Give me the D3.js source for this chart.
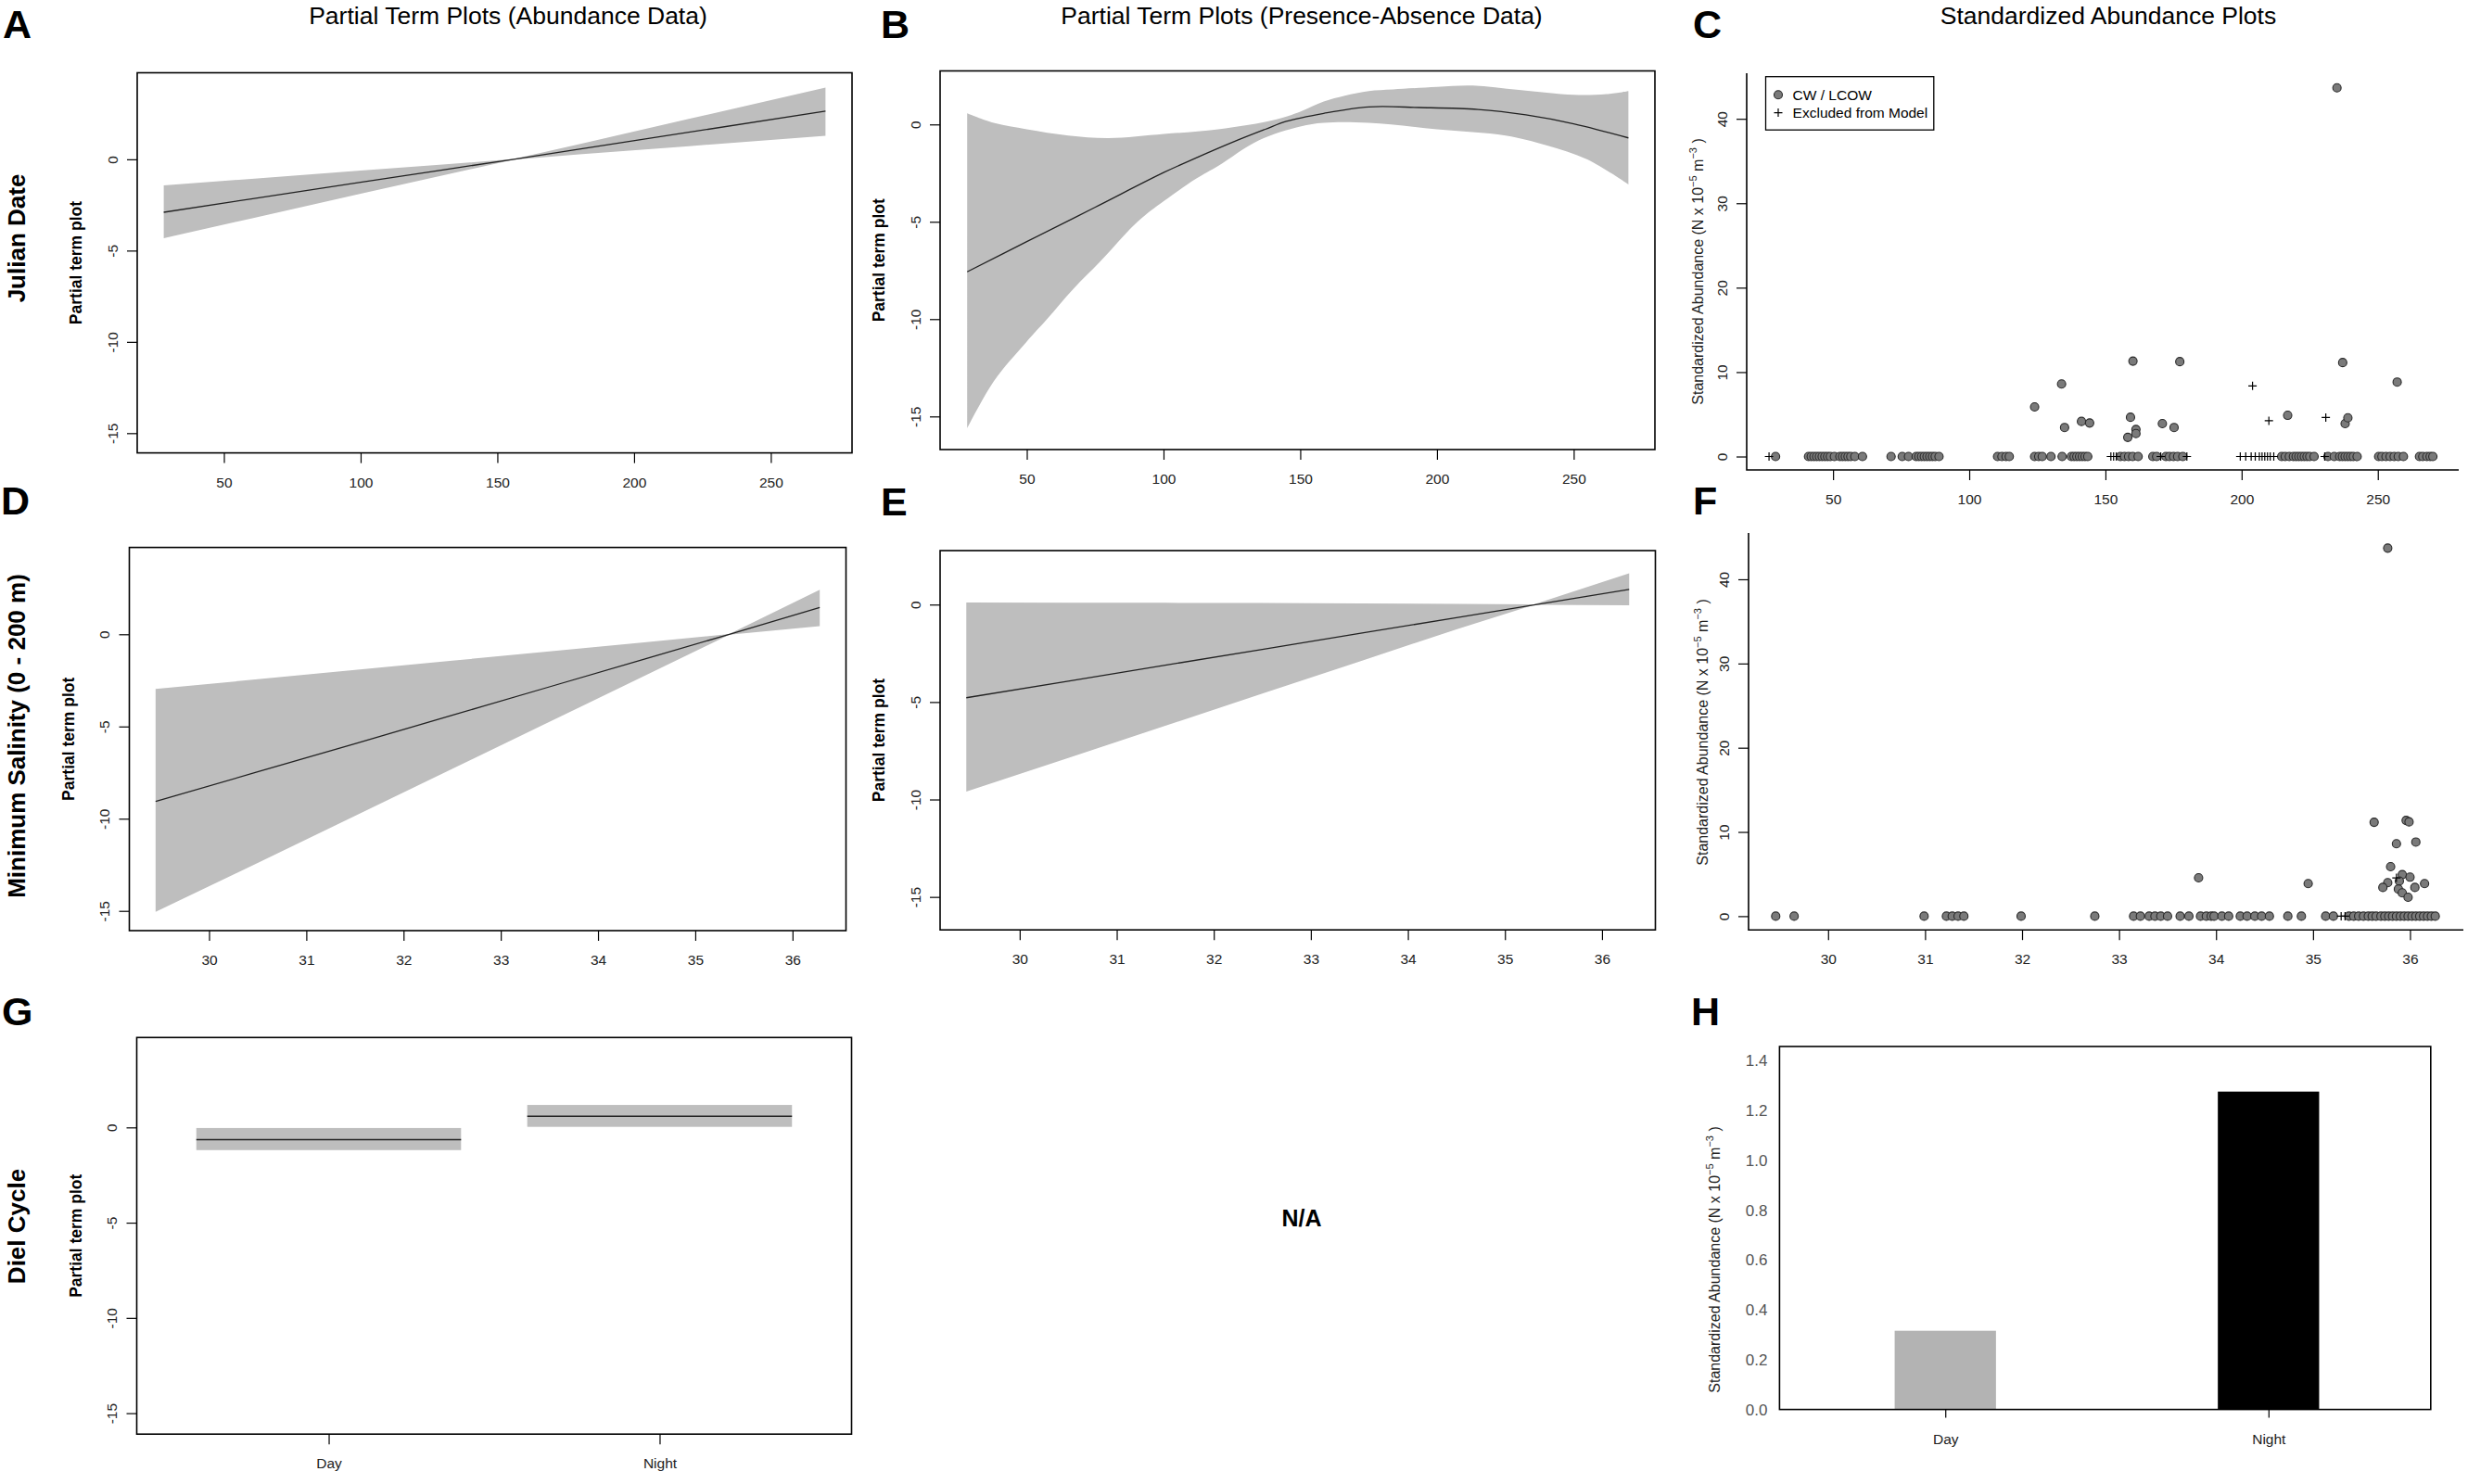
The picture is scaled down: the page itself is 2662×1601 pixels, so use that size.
<!DOCTYPE html>
<html><head><meta charset="utf-8">
<script src="https://cdn.jsdelivr.net/npm/d3@7"></script>
<style>
body{margin:0;background:#fff}
svg{display:block;background:#fff}
text{font-family:"Liberation Sans",Arial,Helvetica,sans-serif}
</style>
</head><body>
<svg id="chart" width="2662" height="1601"></svg>
<script>
// ---------------- DATA ----------------
const julianTicks = [50, 100, 150, 200, 250];
const salinityTicks = [30, 31, 32, 33, 34, 35, 36];
const partialTicks = [0, -5, -10, -15];
const abundTicks = [0, 10, 20, 30, 40];
const barTicks = [0, 0.2, 0.4, 0.6, 0.8, 1.0, 1.2, 1.4];
const dielCats = ["Day", "Night"];

// A: Julian date, abundance model
const aX   = [28, 60, 100, 130, 156, 180, 220, 270];
const aFit = [-2.9, -2.17, -1.26, -0.58, 0, 0.56, 1.48, 2.64];
const aUp  = [-1.43, -1.07, -0.62, -0.29, 0.02, 0.83, 2.21, 3.93];
const aLo  = [-4.32, -3.24, -1.89, -0.88, -0.02, 0.27, 0.72, 1.29];

// B: Julian date, presence-absence model
const bX    = [28.2, 50, 74.9, 100.2, 111.9, 125.5, 137.2, 144.9, 158.6, 175.1, 193.6, 215, 232.5, 250, 270];
const bFit  = [-7.57, -6.02, -4.26, -2.46, -1.72, -0.9, -0.25, 0.16, 0.57, 0.9, 0.87, 0.77, 0.49, 0.03, -0.69];
const bUpX  = [28.2, 37.9, 50, 65.2, 80, 100.2, 120, 141, 150, 158.6, 166.3, 175.1, 183.9, 200, 213, 230, 250, 262, 270];
const bUp   = [0.57, 0.08, -0.25, -0.57, -0.7, -0.49, -0.25, 0.25, 0.66, 1.18, 1.48, 1.72, 1.8, 1.93, 2.0, 1.77, 1.52, 1.56, 1.72];
const bLoX  = [28.2, 37.9, 50, 57.4, 67.1, 76.8, 90.5, 100.2, 111.9, 120, 134.8, 150, 158.6, 175.1, 200, 225.1, 240, 255, 270];
const bLo   = [-15.61, -13.2, -11.15, -10.0, -8.44, -7.05, -5.0, -3.93, -2.79, -2.13, -0.82, -0.11, 0.08, 0.08, -0.25, -0.57, -1.07, -1.8, -3.08];

// C: Julian date vs standardized abundance
const cPosX = [124.0, 133.9, 135.0, 141.2, 144.2, 160.1, 159.2, 158.2, 161.2, 161.2, 170.9, 175.2, 177.3, 216.9, 235.0, 237.1, 238.0, 239.0, 257.1];
const cPosY = [5.87, 8.59, 3.44, 4.16, 3.97, 11.3, 4.65, 2.27, 3.2, 2.72, 3.9, 3.44, 11.24, 4.88, 43.67, 11.13, 3.9, 4.58, 8.82];
const cZeroX = [28.9, 41, 42, 43, 44, 45, 46, 47, 48, 49, 50.5, 52.5, 53.5, 54.5, 55.5, 56.5, 58, 60.8, 71.3, 75.4, 77.7,
  80.5, 81.5, 82.5, 83.5, 84.5, 85.5, 86.5, 87.5, 88.9, 110.4, 112, 113.5, 114.7, 124, 125.5, 126.8, 130, 134.1,
  137.5, 138.5, 139.5, 140.5, 141.5, 142.5, 143.5, 155.5, 157, 158.5, 160, 162, 167.4, 168.8, 172.2, 173.5, 175, 176.5, 178.4,
  214.7, 216, 217.5, 219, 220, 221, 222, 223, 224, 225, 226.6, 231.7, 234, 236, 237, 238, 239, 240, 241, 242.4,
  250.3, 251.5, 253, 254.5, 256, 257.5, 259.4, 265.3, 266.5, 268, 269.2, 270.2];
const cExclX = [26.5, 152, 153, 154, 170.3, 179.9, 199.5, 201.5, 203.5, 205, 206.5, 207.5, 208.5, 209.5, 210.5, 211.8, 230.5, 204.0, 210.0, 230.9];
const cExclY = [0, 0, 0, 0, 0, 0, 0, 0, 0, 0, 0, 0, 0, 0, 0, 0, 0, 8.36, 4.24, 4.62];

// D: minimum salinity, abundance model
const dX   = [29.45, 30.5, 31.5, 32.5, 33.5, 34.5, 35.35, 36.28];
const dFit = [-9.06, -7.46, -5.93, -4.39, -2.85, -1.31, 0, 1.45];
const dUp  = [-2.96, -2.44, -1.93, -1.43, -0.93, -0.43, 0.02, 2.42];
const dLo  = [-15.05, -12.4, -9.85, -7.3, -4.75, -2.2, -0.02, 0.44];

// E: minimum salinity, presence-absence model
const eX   = [29.45, 30.5, 31.5, 32.5, 33.5, 34.5, 35.3, 36.28];
const eFit = [-4.78, -3.93, -3.11, -2.3, -1.48, -0.67, -0.02, 0.78];
const eUp  = [0.11, 0.1, 0.09, 0.08, 0.06, 0.04, 0.01, 1.6];
const eLo  = [-9.6, -7.87, -6.22, -4.57, -2.92, -1.27, -0.01, -0.03];

// F: minimum salinity vs standardized abundance
const fPosX = [33.82, 34.95, 35.63, 35.77, 35.96, 35.99, 35.86, 36.06, 35.80, 35.92, 36.0, 35.89, 35.77, 35.72, 35.88, 35.92, 35.98, 36.05, 36.15];
const fPosY = [4.55, 3.87, 11.15, 43.7, 11.37, 11.2, 8.6, 8.8, 5.88, 4.93, 4.63, 4.17, 3.98, 3.41, 3.22, 2.77, 2.24, 3.41, 3.87];
const fZeroX = [29.46, 29.65, 30.99, 31.22, 31.28, 31.34, 31.4, 31.99, 32.75, 33.15, 33.22, 33.31, 33.37, 33.43, 33.5,
  33.63, 33.72, 33.84, 33.9, 33.95, 33.98, 34.06, 34.13, 34.25, 34.32, 34.4, 34.47, 34.55, 34.74, 34.88, 35.13, 35.21,
  35.37, 35.42, 35.47, 35.52, 35.57, 35.61, 35.65, 35.7, 35.74, 35.78, 35.82, 35.86, 35.9, 35.94, 35.98, 36.02,
  36.06, 36.1, 36.14, 36.18, 36.22, 36.26];
const fExclX = [35.29, 35.33, 35.86];
const fExclY = [0, 0, 4.55];

// G: diel cycle, abundance model
const gFit = [-0.64, 0.59];
const gUp  = [-0.03, 1.18];
const gLo  = [-1.19, 0.03];

// H: diel cycle mean standardized abundance
const hVals = [0.315, 1.272];
const hColors = ["#b3b3b3", "#000000"];

// ---------------- LAYOUT ----------------
const svg = d3.select("#chart");
const BAND = "#bebebe";

function panel(p) {
  const g = svg.append("g");
  const x = d3.scaleLinear().domain(p.xd).range([p.x0, p.x1]);
  const y = d3.scaleLinear().domain(p.yd).range([p.y1, p.y0]);
  return {g, x, y, p};
}
function clip(P, id) {
  svg.append("clipPath").attr("id", id).append("rect")
    .attr("x", P.p.x0).attr("y", P.p.y0).attr("width", P.p.x1 - P.p.x0).attr("height", P.p.y1 - P.p.y0);
  return P.g.append("g").attr("clip-path", `url(#${id})`);
}
function box(P) {
  P.g.append("rect").attr("x", P.p.x0).attr("y", P.p.y0)
    .attr("width", P.p.x1 - P.p.x0).attr("height", P.p.y1 - P.p.y0)
    .attr("fill", "none").attr("stroke", "#000").attr("stroke-width", 1.6);
}
function lBox(P) {
  P.g.append("path").attr("d", `M${P.p.x0},${P.p.y0}V${P.p.y1}H${P.p.x1}`)
    .attr("fill", "none").attr("stroke", "#000").attr("stroke-width", 1.6);
}
function yAxisRot(P, ticks) {
  const a = P.g.append("g").attr("transform", `translate(${P.p.x0},0)`)
    .call(d3.axisLeft(P.y).tickValues(ticks).tickSize(11).tickFormat(d => String(d)));
  a.attr("font-size", null).attr("font-family", null);
  a.select(".domain").remove();
  a.selectAll("line").attr("stroke", "#000").attr("stroke-width", 1.2);
  a.selectAll("text").attr("x", null).attr("dy", null).attr("text-anchor", "middle")
    .attr("transform", "translate(-21.5,0) rotate(-90)")
    .style("font-size", "15.5px").attr("fill", "#222");
}
function xAxis(P, ticks, fmt, len) {
  const a = P.g.append("g").attr("transform", `translate(0,${P.p.y1})`)
    .call(d3.axisBottom(P.x).tickValues(ticks).tickSize(len || 11).tickFormat(fmt || (d => String(d))));
  a.attr("font-size", null).attr("font-family", null);
  a.select(".domain").remove();
  a.selectAll("line").attr("stroke", "#000").attr("stroke-width", 1.2);
  a.selectAll("text").attr("y", 37).attr("dy", null)
    .style("font-size", "15.5px").attr("fill", "#222");
}
function bandPath(P, xu, yu, xl, yl, curve) {
  const ln = d3.line().x(d => P.x(d[0])).y(d => P.y(d[1])).curve(curve);
  const up = xu.map((v, i) => [v, yu[i]]);
  const lo = xl.map((v, i) => [v, yl[i]]).reverse();
  return ln(up) + "L" + ln(lo).slice(1) + "Z";
}
function fitPath(P, xs, ys, curve) {
  return d3.line().x((d, i) => P.x(xs[i])).y(d => P.y(d)).curve(curve)(ys);
}
function partialLabel(P) {
  const cy = (P.p.y0 + P.p.y1) / 2;
  P.g.append("text").attr("transform", `translate(${P.p.x0 - 60},${cy}) rotate(-90)`)
    .attr("text-anchor", "middle").style("font-size", "17.5px").style("font-weight", "bold")
    .text("Partial term plot");
}
function abundLabel(g, x, cy) {
  const t = g.append("text").attr("transform", `translate(${x},${cy}) rotate(-90)`)
    .attr("text-anchor", "middle").style("font-size", "16px").attr("fill", "#222");
  t.append("tspan").text("Standardized Abundance (N x 10");
  t.append("tspan").attr("dy", -7).style("font-size", "11px").text("\u22125");
  t.append("tspan").attr("dy", 7).text(" m");
  t.append("tspan").attr("dy", -7).style("font-size", "11px").text("\u22123");
  t.append("tspan").attr("dy", 7).text(" )");
}
function circles(g, P, xs, ys) {
  g.selectAll(null).data(xs).enter().append("circle")
    .attr("cx", d => P.x(d)).attr("cy", (d, i) => P.y(ys ? ys[i] : 0)).attr("r", 4.5)
    .attr("fill", "#7a7a7a").attr("stroke", "#2a2a2a").attr("stroke-width", 1.1);
}
function crosses(g, P, xs, ys) {
  g.selectAll(null).data(xs).enter().append("path")
    .attr("d", (d, i) => { const cx = P.x(d), cy = P.y(ys[i]); return `M${cx-4.5},${cy}H${cx+4.5}M${cx},${cy-4.5}V${cy+4.5}`; })
    .attr("stroke", "#000").attr("stroke-width", 1.2).attr("fill", "none");
}

// ---- Titles, panel letters, row labels ----
const titles = [["Partial Term Plots (Abundance Data)", 548], ["Partial Term Plots (Presence-Absence Data)", 1404], ["Standardized Abundance Plots", 2274]];
titles.forEach(t => svg.append("text").attr("x", t[1]).attr("y", 26).attr("text-anchor", "middle")
  .style("font-size", "26.5px").text(t[0]));
const letters = [["A", 3, 41], ["B", 950, 41], ["C", 1826, 41], ["D", 1, 555], ["E", 950, 556], ["F", 1826, 555], ["G", 2, 1106], ["H", 1824, 1106]];
letters.forEach(l => svg.append("text").attr("x", l[1]).attr("y", l[2])
  .style("font-size", "43px").style("font-weight", "bold").text(l[0]));
const rows = [["Julian Date", 257], ["Minimum Salinity (0 - 200 m)", 794], ["Diel Cycle", 1323]];
rows.forEach(r => svg.append("text").attr("transform", `translate(27,${r[1]}) rotate(-90)`)
  .attr("text-anchor", "middle").style("font-size", "26px").style("font-weight", "bold").text(r[0]));

// ---- Panel A ----
{
  const P = panel({x0: 148, x1: 919, y0: 78.5, y1: 488.6, xd: [18.3, 279.7], yd: [-16.08, 4.74]});
  const c = clip(P, "clipA");
  c.append("path").attr("d", bandPath(P, aX, aUp, aX, aLo, d3.curveLinear)).attr("fill", BAND);
  c.append("path").attr("d", fitPath(P, aX, aFit, d3.curveLinear)).attr("fill", "none").attr("stroke", "#222").attr("stroke-width", 1.3);
  box(P); yAxisRot(P, partialTicks); xAxis(P, julianTicks); partialLabel(P);
}
// ---- Panel B ----
{
  const P = panel({x0: 1014, x1: 1785, y0: 76.5, y1: 485, xd: [18.3, 279.7], yd: [-16.7, 2.75]});
  const c = clip(P, "clipB");
  c.append("path").attr("d", bandPath(P, bUpX, bUp, bLoX, bLo, d3.curveCatmullRom)).attr("fill", BAND);
  c.append("path").attr("d", fitPath(P, bX, bFit, d3.curveCatmullRom)).attr("fill", "none").attr("stroke", "#222").attr("stroke-width", 1.3);
  box(P); yAxisRot(P, partialTicks); xAxis(P, julianTicks); partialLabel(P);
}
// ---- Panel C ----
{
  const P = panel({x0: 1884, x1: 2652, y0: 79, y1: 507, xd: [18.3, 279.7], yd: [-1.59, 45.4]});
  const g = P.g.append("g");
  circles(g, P, cZeroX, null);
  circles(g, P, cPosX, cPosY);
  crosses(g, P, cExclX, cExclY);
  lBox(P); yAxisRot(P, abundTicks); xAxis(P, julianTicks);
  abundLabel(P.g, 1837, 293);
  // legend
  const lg = P.g.append("g");
  lg.append("rect").attr("x", 1904.5).attr("y", 82.7).attr("width", 181.3).attr("height", 57.5)
    .attr("fill", "#fff").attr("stroke", "#000").attr("stroke-width", 1.3);
  lg.append("circle").attr("cx", 1918).attr("cy", 102.3).attr("r", 4.5).attr("fill", "#7a7a7a").attr("stroke", "#2a2a2a").attr("stroke-width", 1.1);
  lg.append("path").attr("d", "M1913.5,121.6H1922.5M1918,117.1V126.1").attr("stroke", "#000").attr("stroke-width", 1.2);
  lg.append("text").attr("x", 1933.6).attr("y", 107.8).style("font-size", "15.5px").text("CW / LCOW");
  lg.append("text").attr("x", 1933.6).attr("y", 127.2).style("font-size", "15.5px").text("Excluded from Model");
}
// ---- Panel D ----
{
  const P = panel({x0: 139.5, x1: 912.5, y0: 590.6, y1: 1004, xd: [29.18, 36.55], yd: [-16.07, 4.71]});
  const c = clip(P, "clipD");
  c.append("path").attr("d", bandPath(P, dX, dUp, dX, dLo, d3.curveLinear)).attr("fill", BAND);
  c.append("path").attr("d", fitPath(P, dX, dFit, d3.curveLinear)).attr("fill", "none").attr("stroke", "#222").attr("stroke-width", 1.3);
  box(P); yAxisRot(P, partialTicks); xAxis(P, salinityTicks); partialLabel(P);
}
// ---- Panel E ----
{
  const P = panel({x0: 1014, x1: 1785.5, y0: 594, y1: 1003.2, xd: [29.18, 36.55], yd: [-16.69, 2.77]});
  const c = clip(P, "clipE");
  c.append("path").attr("d", bandPath(P, eX, eUp, eX, eLo, d3.curveLinear)).attr("fill", BAND);
  c.append("path").attr("d", fitPath(P, eX, eFit, d3.curveLinear)).attr("fill", "none").attr("stroke", "#222").attr("stroke-width", 1.3);
  box(P); yAxisRot(P, partialTicks); xAxis(P, salinityTicks); partialLabel(P);
}
// ---- Panel F ----
{
  const P = panel({x0: 1886, x1: 2657, y0: 575, y1: 1003.2, xd: [29.18, 36.55], yd: [-1.63, 45.5]});
  const g = P.g.append("g");
  circles(g, P, fZeroX, null);
  circles(g, P, fPosX, fPosY);
  crosses(g, P, fExclX, fExclY);
  lBox(P); yAxisRot(P, abundTicks); xAxis(P, salinityTicks);
  abundLabel(P.g, 1842, 790);
}
// ---- Panel G ----
{
  const P = panel({x0: 147.5, x1: 918.5, y0: 1119.3, y1: 1547.2, xd: [0.42, 2.58], yd: [-16.1, 4.72]});
  const c = clip(P, "clipG");
  dielCats.forEach((cat, i) => {
    const xc = i + 1;
    c.append("rect").attr("x", P.x(xc - 0.4)).attr("width", P.x(xc + 0.4) - P.x(xc - 0.4))
      .attr("y", P.y(gUp[i])).attr("height", P.y(gLo[i]) - P.y(gUp[i])).attr("fill", BAND);
    c.append("line").attr("x1", P.x(xc - 0.4)).attr("x2", P.x(xc + 0.4))
      .attr("y1", P.y(gFit[i])).attr("y2", P.y(gFit[i])).attr("stroke", "#222").attr("stroke-width", 1.5);
  });
  box(P); yAxisRot(P, partialTicks); xAxis(P, [1, 2], d => dielCats[d - 1]); partialLabel(P);
}
// ---- N/A ----
svg.append("text").attr("x", 1404).attr("y", 1323).attr("text-anchor", "middle")
  .style("font-size", "25px").style("font-weight", "bold").text("N/A");
// ---- Panel H ----
{
  const P = panel({x0: 1919.4, x1: 2621.8, y0: 1129, y1: 1520.6, xd: [0.487, 2.502], yd: [0, 1.4525]});
  const bw = 0.3135;
  P.g.selectAll(null).data(hVals).enter().append("rect")
    .attr("x", (d, i) => P.x(i + 1 - bw / 2)).attr("width", P.x(1 + bw / 2) - P.x(1 - bw / 2))
    .attr("y", d => P.y(d)).attr("height", d => P.y(0) - P.y(d))
    .attr("fill", (d, i) => hColors[i]);
  box(P);
  const a = P.g.append("g").attr("transform", `translate(${P.p.x0},0)`)
    .call(d3.axisLeft(P.y).tickValues(barTicks).tickSize(0).tickFormat(d3.format(".1f")));
  a.attr("font-size", null).attr("font-family", null);
  a.select(".domain").remove();
  a.selectAll("text").attr("x", -13).attr("dy", "0.36em").style("font-size", "17px").attr("fill", "#555");
  xAxis(P, [1, 2], d => dielCats[d - 1], 9);
  abundLabel(P.g, 1855, 1359);
}
</script>
</body></html>
